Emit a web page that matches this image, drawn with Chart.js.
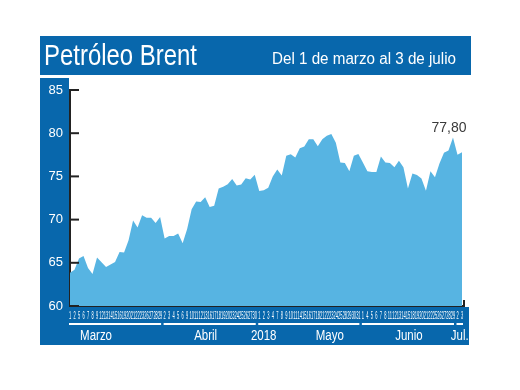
<!DOCTYPE html>
<html>
<head>
<meta charset="utf-8">
<title>Petróleo Brent</title>
<script src="https://cdn.jsdelivr.net/npm/chart.js@4.4.1/dist/chart.umd.min.js"></script>
<style>
  html, body { margin: 0; padding: 0; background: #fff; }
</style>
</head>
<body>
<canvas id="chart" width="520" height="390"></canvas>
<script>
// Brent, trading days from 1 March to 3 July 2018 (USD / barrel)
const titleText = "Petróleo Brent";
const subtitleText = "Del 1 de marzo al 3 de julio";
const yearLabel = "2018";
const monthNames = ["Marzo", "Abril", "Mayo", "Junio", "Jul."];

const marchDays = [1, 2, 5, 6, 7, 8, 9, 12, 13, 14, 15, 16, 19, 20, 21, 22, 23, 26, 27, 28, 29];
const aprilDays = [2, 3, 4, 5, 6, 9, 10, 11, 12, 13, 16, 17, 18, 19, 20, 23, 24, 25, 26, 27, 30];
const mayDays = [1, 2, 3, 4, 7, 8, 9, 10, 11, 14, 15, 16, 17, 18, 21, 22, 23, 24, 25, 28, 29, 30, 31];
const juneDays = [1, 4, 5, 6, 7, 8, 11, 12, 13, 14, 15, 18, 19, 20, 21, 22, 25, 26, 27, 28, 29];
const julyDays = [2, 3];

const marchPrices = [63.86, 64.2, 65.5, 65.8, 64.4, 63.7, 65.6, 65.05, 64.5, 64.8, 65.1,
  66.25, 66.2, 67.6, 69.9, 69.1, 70.5, 70.2, 70.2, 69.6, 70.3];
const aprilPrices = [67.8, 68.1, 68.1, 68.4, 67.25, 68.9, 71.2, 72.1, 72.05, 72.6, 71.45,
  71.6, 73.6, 73.8, 74.1, 74.7, 73.95, 74.05, 74.8, 74.65, 75.2];
const mayPrices = [73.3, 73.4, 73.7, 75.0, 75.8, 75.1, 77.4, 77.55, 77.2, 78.25, 78.45, 79.3,
  79.3, 78.5, 79.3, 79.7, 79.9, 78.9, 76.6, 76.55, 75.6, 77.4, 77.6];
const junePrices = [76.6, 75.6, 75.5, 75.5, 77.3, 76.6, 76.55, 76.05, 76.8, 76.05, 73.6,
  75.35, 75.15, 74.75, 73.35, 75.6, 74.9, 76.5, 77.75, 78.0, 79.5];
const julyPrices = [77.5, 77.8];

const yTicks = [60, 65, 70, 75, 80, 85];

const monthDays = [marchDays, aprilDays, mayDays, juneDays, julyDays];
const labels = [].concat(...monthDays).map(String);
const prices = [].concat(marchPrices, aprilPrices, mayPrices, junePrices, julyPrices);

const BLUE = "#0867ac";
const FILL = "#57b4e2";
const SANS = "'Liberation Sans', Arial, sans-serif";

// draw text squeezed to a given width
function fitText(ctx, text, x, y, width) {
  const w = ctx.measureText(text).width;
  ctx.save();
  ctx.translate(x, y);
  ctx.scale(width / w, 1);
  ctx.fillText(text, 0, 0);
  ctx.restore();
}

// draw text with a fixed horizontal squeeze
function narrowText(ctx, text, x, y, sx) {
  ctx.save();
  ctx.translate(x, y);
  ctx.scale(sx, 1);
  ctx.fillText(text, 0, 0);
  ctx.restore();
}

const frame = {
  id: "frame",
  beforeDraw(chart) {
    const ctx = chart.ctx;
    ctx.save();
    ctx.fillStyle = "#fff";
    ctx.fillRect(0, 0, chart.width, chart.height);
    ctx.fillStyle = BLUE;
    ctx.fillRect(40, 36, 431, 39);   // title bar
    ctx.fillRect(40, 78, 29, 267);   // y label strip
    ctx.fillRect(40, 307, 429, 38);  // x label strip
    ctx.fillStyle = "#fff";
    ctx.textBaseline = "alphabetic";
    ctx.textAlign = "left";
    ctx.font = "29px " + SANS;
    fitText(ctx, titleText, 44, 65, 153);
    ctx.font = "16px " + SANS;
    fitText(ctx, subtitleText, 272, 64, 184);
    ctx.restore();
  }
};

const decor = {
  id: "decor",
  afterDraw(chart) {
    const ctx = chart.ctx;
    const xs = chart.scales.x;
    const ys = chart.scales.y;
    const area = chart.chartArea;
    ctx.save();

    // inner tick marks on the y axis
    ctx.strokeStyle = "#222";
    ctx.lineWidth = 2;
    yTicks.forEach(v => {
      const y = ys.getPixelForValue(v);
      ctx.beginPath();
      ctx.moveTo(area.left, y);
      ctx.lineTo(area.left + 9, y);
      ctx.stroke();
    });
    // small end mark at the right of the x axis
    ctx.beginPath();
    ctx.moveTo(area.right + 2, area.bottom + 1);
    ctx.lineTo(area.right + 2, area.bottom - 6);
    ctx.stroke();

    // day numbers
    ctx.fillStyle = "#fff";
    ctx.textAlign = "center";
    ctx.textBaseline = "middle";
    ctx.font = "10px " + SANS;
    labels.forEach((d, i) => {
      narrowText(ctx, d, xs.getPixelForValue(i), 316, 0.4);
    });

    // month underlines and names
    const shift = [-19, -4, 21, 1, 0];
    ctx.strokeStyle = "#fff";
    ctx.lineWidth = 2;
    ctx.font = "14px " + SANS;
    let start = 0;
    const ends = [];
    monthDays.forEach((days, m) => {
      const x0 = xs.getPixelForValue(start) - 1;
      const x1 = xs.getPixelForValue(start + days.length - 1) + 1;
      ctx.beginPath();
      ctx.moveTo(x0, 324);
      ctx.lineTo(x1, 324);
      ctx.stroke();
      narrowText(ctx, monthNames[m], (x0 + x1) / 2 + shift[m], 336, 0.82);
      ends.push(x1);
      start += days.length;
    });
    narrowText(ctx, yearLabel, ends[1] + 8, 336, 0.82);

    // last value
    const last = prices.length - 1;
    ctx.fillStyle = "#3a3a3a";
    ctx.font = "14px " + SANS;
    ctx.fillText(prices[last].toFixed(2).replace(".", ","),
      xs.getPixelForValue(last) - 13, ys.getPixelForValue(prices[last]) - 24);
    ctx.restore();
  }
};

new Chart(document.getElementById("chart"), {
  type: "line",
  data: {
    labels: labels,
    datasets: [{
      data: prices,
      fill: "start",
      backgroundColor: FILL,
      borderColor: "rgba(0,0,0,0)",
      borderWidth: 0,
      pointRadius: 0,
      tension: 0
    }]
  },
  options: {
    responsive: false,
    animation: false,
    layout: { padding: { left: 40, right: 58, top: 90, bottom: 84 } },
    plugins: { legend: { display: false }, tooltip: { enabled: false } },
    scales: {
      x: {
        offset: false,
        z: 1,
        grid: { display: false, drawTicks: false },
        ticks: { display: false },
        border: { display: true, color: "#222", width: 2 },
        afterFit(s) { s.height = 0; }
      },
      y: {
        min: 60,
        max: 85,
        z: 1,
        afterBuildTicks(s) { s.ticks = yTicks.map(v => ({ value: v })); },
        ticks: { color: "#fff", font: { family: SANS, size: 13 }, padding: 7 },
        grid: { display: false, drawTicks: false },
        border: { display: true, color: "#222", width: 2 },
        afterFit(s) { s.width = 30; }
      }
    }
  },
  plugins: [frame, decor]
});
</script>
</body>
</html>
